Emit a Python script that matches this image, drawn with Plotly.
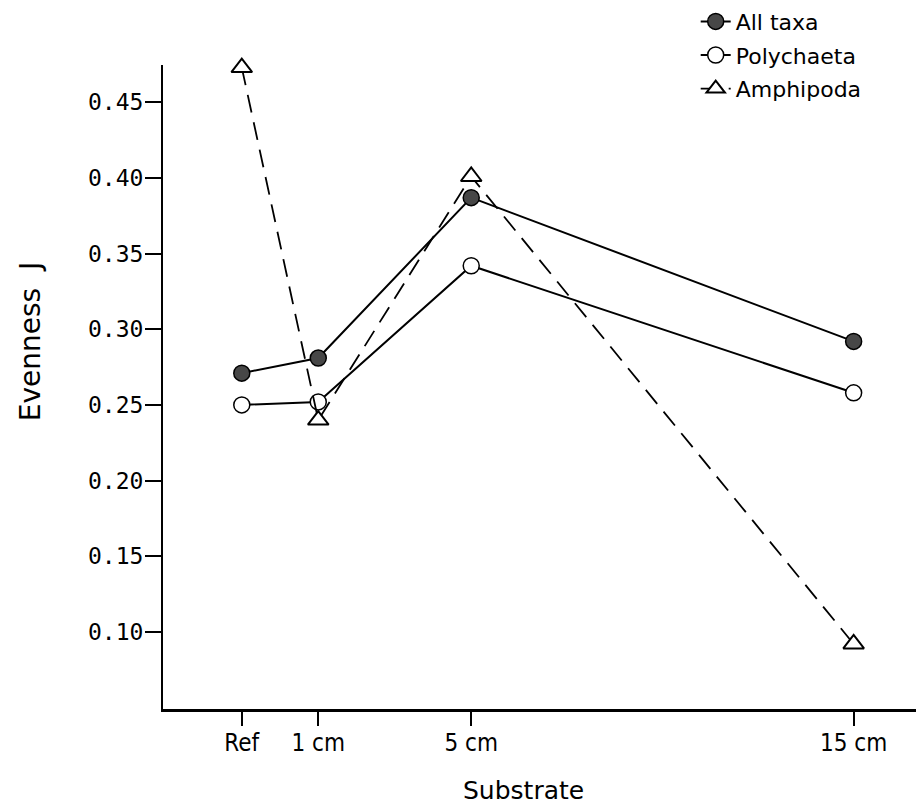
import plotly.graph_objects as go

# ---- data ----
substrate_labels = ["Ref", "1 cm", "5 cm", "15 cm"]
substrate_pos = [-1, 1, 5, 15]
all_taxa = [0.271, 0.281, 0.387, 0.292]
polychaeta = [0.250, 0.252, 0.342, 0.258]
amphipoda = [0.473, 0.240, 0.401, 0.092]
y_ticks = [0.10, 0.15, 0.20, 0.25, 0.30, 0.35, 0.40, 0.45]

fig = go.Figure()

fig.add_trace(go.Scatter(
    x=substrate_pos, y=all_taxa, name="All taxa", mode="lines+markers",
    line=dict(color="black", width=2),
    marker=dict(symbol="circle", size=16, color="#474747",
                line=dict(color="black", width=1.5)),
    cliponaxis=False, legendgroup="a"))

fig.add_trace(go.Scatter(
    x=substrate_pos, y=polychaeta, name="Polychaeta", mode="lines+markers",
    line=dict(color="black", width=2),
    marker=dict(symbol="circle", size=16, color="white",
                line=dict(color="black", width=1.5)),
    cliponaxis=False, legendgroup="b"))

fig.add_trace(go.Scatter(
    x=substrate_pos, y=amphipoda, name="Amphipoda", mode="lines+markers",
    line=dict(color="black", width=1.8, dash="18px,10px"),
    marker=dict(symbol="triangle-up", size=18, color="white",
                line=dict(color="black", width=2)),
    cliponaxis=False, legendgroup="c"))

# page body has an 8px margin, so the figure is 8px smaller and shifted
fig.update_layout(
    width=916, height=798,
    margin=dict(l=155, r=0, t=57, b=97, autoexpand=False),
    paper_bgcolor="white", plot_bgcolor="white",
    showlegend=True,
    legend=dict(x=0.70, y=1.100, xanchor="left", yanchor="top",
                font=dict(family="DejaVu Sans", size=22, color="black"),
                tracegroupgap=2, bgcolor="rgba(0,0,0,0)"),
    annotations=[
        dict(text="Evenness  J", xref="paper", yref="paper",
             x=-0.173, y=0.570, xanchor="center", yanchor="middle",
             textangle=-90, showarrow=False,
             font=dict(family="DejaVu Sans", size=28, color="black")),
        dict(text="Substrate", xref="paper", yref="paper",
             x=0.474, y=-0.1258, xanchor="center", yanchor="middle",
             showarrow=False,
             font=dict(family="DejaVu Sans", size=25, color="black")),
    ],
)

fig.update_xaxes(
    range=[-3.06, 16.84], tickmode="array",
    tickvals=substrate_pos, ticktext=substrate_labels,
    showline=True, linecolor="black", linewidth=3,
    ticks="outside", ticklen=14, tickwidth=1.5, tickcolor="black",
    showgrid=False, zeroline=False, ticklabelstandoff=-4,
    tickfont=dict(family="DejaVu Sans Condensed", size=24, color="black"))

fig.update_yaxes(
    range=[0.049, 0.4747], tickmode="array",
    tickvals=y_ticks, ticktext=[f"{v:.2f}" for v in y_ticks],
    showline=True, linecolor="black", linewidth=2,
    ticks="outside", ticklen=16, tickwidth=2, tickcolor="black",
    showgrid=False, zeroline=False, ticklabelstandoff=-3,
    tickfont=dict(family="DejaVu Sans Mono", size=23, color="black"))

fig.write_html("out.html")
